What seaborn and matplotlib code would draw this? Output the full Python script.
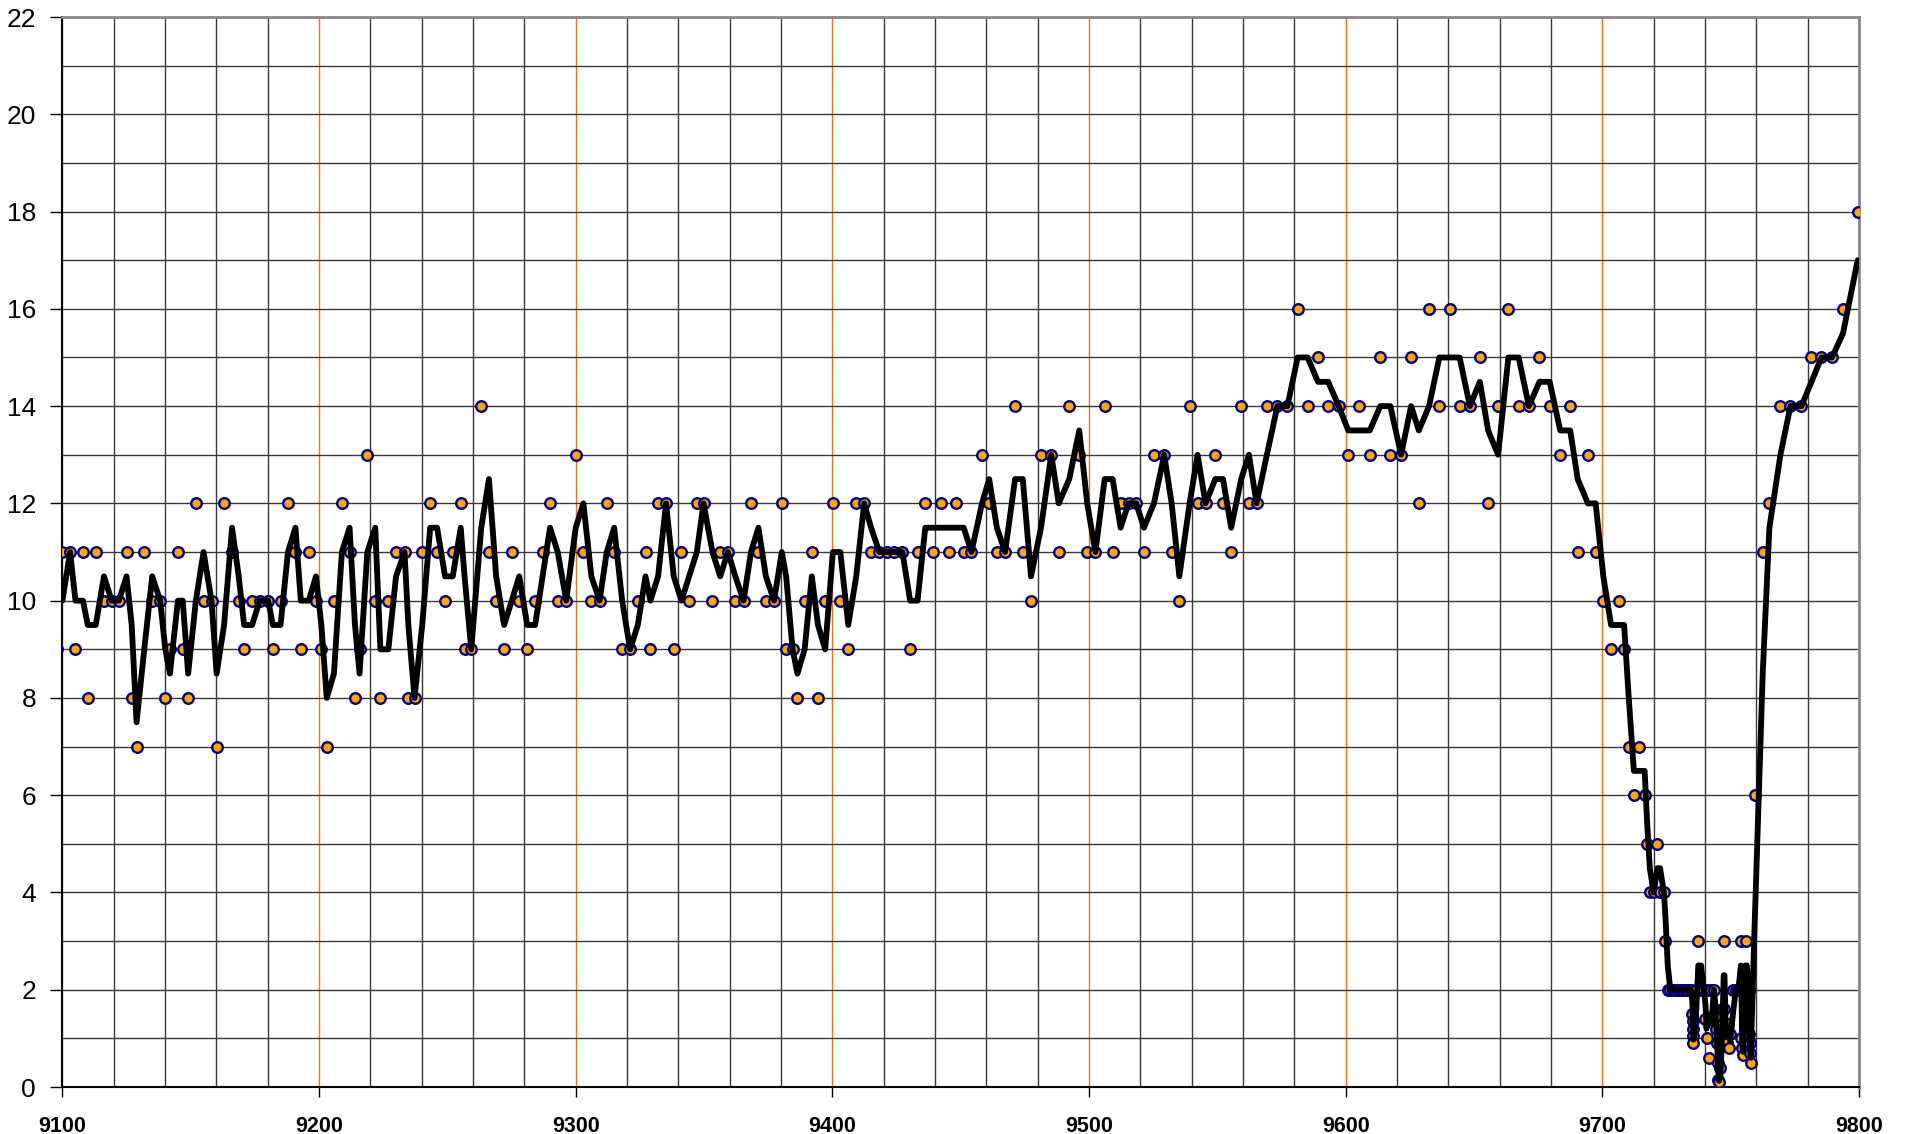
import matplotlib
matplotlib.use("Agg")
import matplotlib.pyplot as plt
import seaborn as sns
import pandas as pd
from matplotlib.ticker import MultipleLocator

# depth positions of the readings
depth = [
    9098.0, 9100.0, 9103.0, 9105.1, 9108.0, 9109.9, 9113.0, 9116.2, 9119.2, 9122.0, 9125.0,
    9127.0, 9128.9, 9131.9, 9135.0, 9138.1, 9140.1, 9141.9, 9145.0, 9146.9, 9149.0,
    9152.0, 9155.0, 9158.1, 9160.1, 9163.0, 9166.1, 9168.7, 9170.8, 9173.9, 9176.9,
    9180.2, 9182.0, 9185.0, 9187.9, 9190.8, 9192.9, 9196.0, 9198.8, 9200.9, 9203.0,
    9205.8, 9208.9, 9211.9, 9214.0, 9215.8, 9218.8, 9221.9, 9223.9, 9227.0,
    9230.0, 9233.3, 9234.8, 9237.2, 9240.2, 9243.3, 9246.0, 9249.1, 9252.1, 9255.2,
    9256.7, 9259.3, 9263.2, 9266.2, 9269.0, 9272.1, 9275.1, 9278.0, 9281.1, 9284.2,
    9287.1, 9290.0, 9293.0, 9296.3, 9300.0, 9303.0, 9306.1, 9309.3, 9312.1, 9315.0,
    9318.1, 9321.2, 9324.2, 9327.2, 9329.1, 9332.1, 9335.2, 9338.2, 9341.2, 9344.2,
    9347.2, 9349.8,
    9353.3, 9356.3, 9359.3, 9362.2, 9365.4, 9368.3, 9371.2, 9374.1, 9377.3, 9380.3,
    9382.0, 9384.5, 9386.4, 9389.2, 9392.0, 9394.4, 9397.2, 9400.2, 9403.1, 9406.2,
    9409.3, 9412.4, 9415.1, 9418.3, 9421.2, 9424.2, 9427.3, 9430.3, 9433.2, 9436.2,
    9439.2, 9442.3, 9445.3, 9448.3, 9451.2, 9454.2, 9458.3, 9461.1, 9464.1, 9467.3,
    9471.2, 9474.2,
    9477.4, 9481.3, 9485.3, 9488.2, 9492.3, 9496.2, 9499.3, 9502.5, 9506.1, 9509.2,
    9512.3, 9515.4, 9518.4, 9521.4, 9525.3, 9529.3, 9532.2, 9535.2, 9539.2, 9542.3,
    9545.4, 9549.2, 9552.2, 9555.4, 9559.3, 9562.3, 9565.3, 9569.3, 9573.4, 9577.3,
    9581.3, 9585.2, 9589.2, 9593.2, 9597.3, 9601.0,
    9605.3, 9609.4, 9613.5, 9617.4, 9621.6, 9625.5, 9628.5, 9632.5, 9636.5, 9640.5,
    9644.4, 9648.4, 9652.3, 9655.5, 9659.4, 9663.4, 9667.4, 9671.4, 9675.5, 9679.5,
    9683.6, 9687.5, 9690.4, 9694.4, 9697.4, 9700.4, 9703.4, 9706.5, 9708.5,
    9710.3, 9712.3, 9714.3, 9716.5, 9717.4, 9718.5, 9720.0, 9721.5, 9722.5, 9724.0, 9724.6,
    9725.5, 9726.5, 9727.5, 9728.5, 9729.5, 9730.5, 9731.5, 9732.5, 9733.5, 9734.5,
    9735.1, 9735.2, 9735.3, 9735.4, 9735.5, 9736.5, 9737.4, 9738.5, 9739.5,
    9740.2, 9740.6, 9741.0, 9741.5, 9742.5, 9743.5,
    9744.0, 9744.3, 9744.6, 9744.9, 9745.2, 9745.5, 9746.0, 9746.4, 9746.8, 9747.3,
    9747.6, 9748.0, 9748.4, 9748.8, 9749.3, 9749.8, 9751.0, 9752.0, 9753.0, 9754.0,
    9754.2, 9754.5, 9754.8, 9755.2, 9755.8, 9756.3, 9757.0, 9757.2, 9757.4, 9757.6, 9757.8,
    9759.3, 9762.5, 9765.1, 9769.4, 9773.3, 9777.6, 9781.5, 9785.4, 9789.5, 9793.8, 9799.5,
]

reading = [
    9, 11, 11, 9, 11, 8, 11, 10, 10, 10, 11,
    8, 7, 11, 10, 10, 8, 9, 11, 9, 8,
    12, 10, 10, 7, 12, 11, 10, 9, 10, 10,
    10, 9, 10, 12, 11, 9, 11, 10, 9, 7,
    10, 12, 11, 8, 9, 13, 10, 8, 10,
    11, 11, 8, 8, 11, 12, 11, 10, 11, 12,
    9, 9, 14, 11, 10, 9, 11, 10, 9, 10,
    11, 12, 10, 10, 13, 11, 10, 10, 12, 11,
    9, 9, 10, 11, 9, 12, 12, 9, 11, 10,
    12, 12,
    10, 11, 11, 10, 10, 12, 11, 10, 10, 12,
    9, 9, 8, 10, 11, 8, 10, 12, 10, 9,
    12, 12, 11, 11, 11, 11, 11, 9, 11, 12,
    11, 12, 11, 12, 11, 11, 13, 12, 11, 11,
    14, 11,
    10, 13, 13, 11, 14, 13, 11, 11, 14, 11,
    12, 12, 12, 11, 13, 13, 11, 10, 14, 12,
    12, 13, 12, 11, 14, 12, 12, 14, 14, 14,
    16, 14, 15, 14, 14, 13,
    14, 13, 15, 13, 13, 15, 12, 16, 14, 16,
    14, 14, 15, 12, 14, 16, 14, 14, 15, 14,
    13, 14, 11, 13, 11, 10, 9, 10, 9,
    7, 6, 7, 6, 5, 4, 4, 5, 4, 4, 3,
    2, 2, 2, 2, 2, 2, 2, 2, 2, 2,
    1.5, 1.35, 1.2, 1.05, 0.9, 2, 3, 2, 2,
    1.4, 1.0, 2, 0.6, 2, 2,
    1.45, 1.2, 0.9, 0.5, 0.15, 0.1, 0.4, 1.0, 1.6, 3,
    1.6, 1.2, 0.9, 1.3, 0.8, 1.1, 2, 2, 2, 3,
    1.0, 0.8, 0.65, 2, 3, 2, 2, 1.1, 0.9, 0.7, 0.5,
    6, 11, 12, 14, 14, 14, 15, 15, 15, 16, 18,
]

x_ticks = [9100, 9200, 9300, 9400, 9500, 9600, 9700, 9800]
y_ticks = [0, 2, 4, 6, 8, 10, 12, 14, 16, 18, 20, 22]

data = pd.DataFrame({"depth": depth, "reading": reading})
# 2 point moving average, as drawn by the original trend line
data["avg2"] = data["reading"].rolling(2).mean()

sns.set_style("white")
plt.rcParams["font.family"] = ["Liberation Sans", "DejaVu Sans"]

fig = plt.figure(figsize=(19.08, 11.34), dpi=100)
ax = fig.add_axes([0.0327, 0.0414, 0.9416, 0.9436])

sns.scatterplot(data=data, x="depth", y="reading", s=58, color="#FFA500",
                edgecolor="#000080", linewidth=1.7, zorder=3, ax=ax)
sns.lineplot(data=data, x="depth", y="avg2", estimator=None, sort=False,
             color="black", linewidth=4.2, zorder=4, ax=ax)

ax.set_xlim(9100, 9800)
ax.set_ylim(0, 22)
ax.set_xlabel("")
ax.set_ylabel("")

ax.set_xticks(x_ticks)
ax.set_xticklabels([str(t) for t in x_ticks], fontweight="bold")
ax.set_yticks(y_ticks)
ax.set_yticklabels([str(t) for t in y_ticks])
ax.xaxis.set_minor_locator(MultipleLocator(20))
ax.yaxis.set_minor_locator(MultipleLocator(1))

ax.tick_params(axis="x", which="major", direction="out", length=7, width=1,
               labelsize=15.5, pad=14, colors="black", bottom=True)
ax.tick_params(axis="y", which="major", direction="out", length=9, width=1,
               labelsize=19, pad=10, colors="black", left=True)
ax.tick_params(which="minor", length=0)

ax.set_axisbelow(True)
ax.grid(which="major", axis="x", color="#F07020", linewidth=1.0)
ax.grid(which="minor", axis="x", color="#383838", linewidth=1.0)
ax.grid(which="both", axis="y", color="#383838", linewidth=1.0)

for side in ["left", "bottom"]:
    ax.spines[side].set_color("black")
    ax.spines[side].set_linewidth(1.5)
for side in ["top", "right"]:
    ax.spines[side].set_color("#888888")
    ax.spines[side].set_linewidth(2)

fig.savefig("out.png", dpi=100)
